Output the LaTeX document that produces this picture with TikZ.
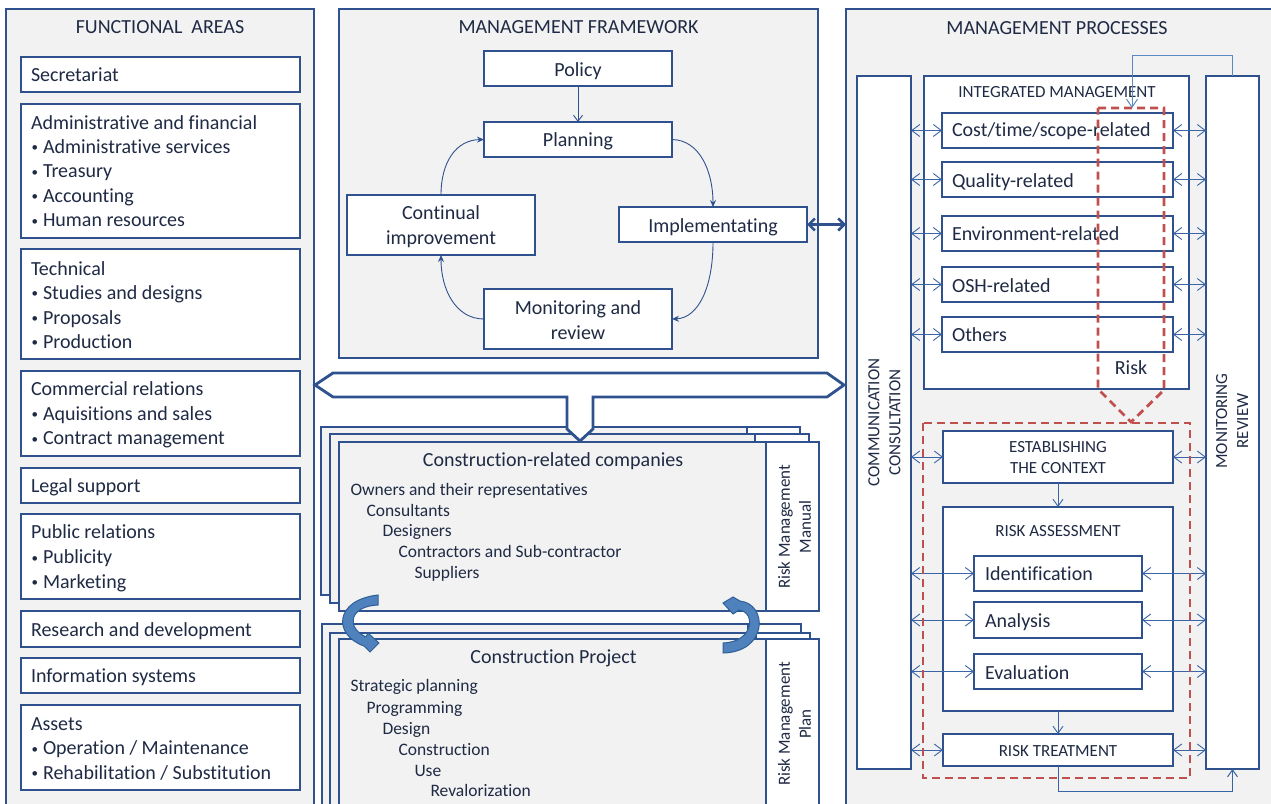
\documentclass[tikz,border=0pt]{standalone}
\usepackage{fontspec}
\setmainfont{Carlito}[Ligatures=NoCommon]
\usetikzlibrary{arrows.meta}
\definecolor{bd}{HTML}{2F528F}
\definecolor{tx}{HTML}{1F2A44}
\definecolor{pg}{HTML}{F2F2F2}
\definecolor{ar}{HTML}{3A64A8}
\definecolor{lb}{HTML}{5A8AC6}
\definecolor{rd}{HTML}{C0504D}
\definecolor{cf}{HTML}{4F81BD}
\definecolor{cb}{HTML}{2F5F97}
\newcommand\bx[6][]{\node[box,minimum width={#5pt-#3pt},minimum height={#6pt-#4pt},#1] (#2) at ({(#3+#5)/2},{(#4+#6)/2}) {};}
\newcommand\tline[5][]{\node[lbl,anchor=base west,#1] (#2) at (#3,#4) {#5};}
\newcommand\ctext[5][]{\node[lbl,anchor=base,#1] (#2) at (#3,#4) {#5};}
\newcommand\bul{\makebox[12pt][l]{\hspace{0.5pt}\raisebox{1.5pt}{\fontsize{13}{13}\selectfont •}}}
\tikzset{
  box/.style={draw=bd,line width=1.3pt,fill=white,inner sep=0pt,outer sep=0pt},
  panel/.style={draw=bd,line width=1.6pt,fill=pg},
  gbox/.style={fill=pg},
  col/.style={line width=1.6pt},
  lbl/.style={text=tx,inner sep=0pt,outer sep=0pt,font=\fontsize{20}{24.5}\selectfont},
  subl/.style={font=\fontsize{17.5}{21}\selectfont},
  capl/.style={font=\fontsize{17}{21}\selectfont},
  cyc/.style={draw=bd,line width=0.9pt,-{Stealth[length=7pt,width=6pt]}},
  barb/.style={draw=ar,line width=0.9pt,-{Straight Barb[length=7pt,width=10pt]}},
  dbl/.style={draw=ar,line width=0.9pt,{Straight Barb[length=8pt,width=12pt]}-{Straight Barb[length=8pt,width=12pt]}},
  fat/.style={draw=bd,line width=2.6pt,{Straight Barb[length=6pt,width=12pt]}-{Straight Barb[length=6pt,width=12pt]}},
  fbk/.style={draw=lb,line width=1pt,-{Straight Barb[length=8pt,width=11pt]}},
  rdash/.style={draw=rd,line width=2.8pt,dash pattern=on 8pt off 5pt},
  blk/.style={draw=bd,line width=2.8pt,fill=white,line join=miter},
  carrow/.style={fill=cf,draw=cb,line width=1pt}
}
\begin{document}
\begin{tikzpicture}[x=1pt,y=-1pt]
\fill[white] (0,0) rectangle (1271,803);
\useasboundingbox (0,0) rectangle (1271,803);

% ---------------- FUNCTIONAL AREAS ----------------
\bx[panel]{fa}{6}{9}{314}{830}
\ctext{fat}{160}{33.5}{FUNCTIONAL\ \ AREAS}
\bx{sec}{21}{57}{300}{92}
\bx{adm}{21}{104}{300}{238}
\bx{tec}{21}{249}{300}{359}
\bx{com}{21}{371}{300}{456}
\bx{leg}{21}{468}{300}{503}
\bx{pub}{21}{514}{300}{599}
\bx{res}{21}{611}{300}{647}
\bx{inf}{21}{658}{300}{693}
\bx{ast}{21}{705}{300}{790}
\tline{t1}{31}{81.7}{Secretariat}
\tline{t2}{31}{129.3}{Administrative and financial}
\tline{t3}{31}{153.3}{\bul Administrative services}
\tline{t4}{31}{177.5}{\bul Treasury}
\tline{t5}{31}{202.3}{\bul Accounting}
\tline{t6}{31}{226.7}{\bul Human resources}
\tline{t7}{31}{275}{Technical}
\tline{t8}{31}{299.3}{\bul Studies and designs}
\tline{t9}{31}{324}{\bul Proposals}
\tline{t10}{31}{348.3}{\bul Production}
\tline{t11}{31}{395.7}{Commercial relations}
\tline{t12}{31}{420}{\bul Aquisitions and sales}
\tline{t13}{31}{444.5}{\bul Contract management}
\tline{t14}{31}{492.3}{Legal support}
\tline{t15}{31}{538.3}{Public relations}
\tline{t16}{31}{563.5}{\bul Publicity}
\tline{t17}{31}{588}{\bul Marketing}
\tline{t18}{31}{636}{Research and development}
\tline{t19}{31}{682.7}{Information systems}
\tline{t20}{31}{730}{Assets}
\tline{t21}{31}{754.5}{\bul Operation / Maintenance}
\tline{t22}{31}{779.3}{\bul Rehabilitation / Substitution}

% ---------------- MANAGEMENT FRAMEWORK ----------------
\bx[panel]{mf}{339}{9}{818}{358}
\ctext{mft}{578.5}{33.5}{MANAGEMENT FRAMEWORK}
\bx{pol}{484}{51}{672}{86}
\bx{pla}{484}{122}{672}{157}
\bx{con}{347}{195}{535}{255}
\bx{imp}{619}{207}{807}{242}
\bx{mon}{484}{289}{672}{349}
\ctext{polt}{578}{76}{Policy}
\ctext{plat}{578}{146.5}{Planning}
\ctext{cont1}{441}{219}{Continual}
\ctext{cont2}{441}{244}{improvement}
\ctext{impt}{713}{232}{Implementating}
\ctext{mont1}{578}{314.5}{Monitoring and}
\ctext{mont2}{578}{339.5}{review}
\draw[cyc,-{Straight Barb[length=6pt,width=9pt]}] (pol.south) -- (pla.north);
\draw[cyc] (pla.east) .. controls (700,140) and (713,172) .. (imp.north);
\draw[cyc] (imp.south) .. controls (713,288) and (698,318) .. (mon.east);
\draw[cyc] (mon.west) .. controls (456,319) and (441,290) .. (con.south);
\draw[cyc] (con.north) .. controls (441,162) and (456,140) .. (pla.west);

% ---------------- MANAGEMENT PROCESSES ----------------
\bx[panel]{mp}{846}{9}{1290}{830}
\ctext{mpt}{1057}{34}{MANAGEMENT PROCESSES}
\draw[fat] (imp.east) -- (mp.west |- imp.east);

\bx[col]{cc}{857}{76}{911}{769}
\bx[col]{mr}{1206}{76}{1259}{769}
\bx[col]{im}{924}{76}{1189}{389}
\node[lbl,capl,rotate=90,align=center] (cct) at (884.5,422.5) {COMMUNICATION\\CONSULTATION};
\node[lbl,capl,rotate=90,align=center] (mrt) at (1232,421) {MONITORING\\REVIEW};
\ctext[capl]{imt}{1057}{97.5}{INTEGRATED MANAGEMENT}
\bx{cst}{942}{113}{1173}{148}
\bx{qua}{942}{162}{1173}{197}
\bx{env}{942}{216}{1173}{251}
\bx{osh}{942}{267}{1173}{302}
\bx{oth}{942}{317}{1173}{352}
\tline{cstt}{952}{136.7}{Cost/time/scope-related}
\tline{quat}{952}{187.7}{Quality-related}
\tline{envt}{952}{240}{Environment-related}
\tline{osht}{952}{292.3}{OSH-related}
\tline{otht}{952}{341}{Others}
\ctext{riskt}{1131}{374}{Risk}

\bx{est}{943}{431}{1173}{483}
\bx[col]{ra}{943}{507}{1173}{711}
\bx{idn}{974}{556}{1142}{591}
\bx{ana}{974}{602}{1142}{638}
\bx{evl}{974}{654}{1142}{689}
\bx[col]{rt}{943}{734}{1173}{766}
\ctext[capl]{estt1}{1058}{452.7}{ESTABLISHING}
\ctext[capl]{estt2}{1058}{473.3}{THE CONTEXT}
\ctext[capl]{rat}{1058}{536.7}{RISK ASSESSMENT}
\tline{idnt}{985}{580}{Identification}
\tline{anat}{985}{627.3}{Analysis}
\tline{evlt}{985}{679}{Evaluation}
\ctext[capl]{rtt}{1058}{756}{RISK TREATMENT}

\draw[barb] (est.south) -- (ra.north);
\draw[barb] (ra.south) -- (rt.north);
\foreach \n in {cst,qua,env,osh,oth,est,rt}{
  \draw[dbl] (cc.east |- \n.west) -- (\n.west);
  \draw[dbl] (\n.east) -- (mr.west |- \n.east);
}
\foreach \n in {idn,ana,evl}{
  \draw[dbl] (cc.east |- \n.west) -- (\n.west);
  \draw[dbl] (\n.east) -- (mr.west |- \n.east);
}

\draw[rdash] (1098,108) -- (1164,108) -- (1164,390) -- (1131,422) -- (1098,389) -- cycle;
\draw[rdash] (923,423) rectangle (1190,778);
\coordinate (fbt) at (1132,55);
\coordinate (rsk) at (1132,108);
\draw[fbk] (mr.north) |- (fbt) -- (rsk);
\draw[barb,line width=1pt] (rt.south) -- ++(0,25.7) -| (mr.south);

% ---------------- COMPANIES / PROJECT STACKS ----------------
\bx[gbox]{cb1}{321}{427}{747}{595}
\bx{cb1r}{747}{427}{800}{595}
\bx[gbox]{cb2}{330}{434}{755}{603}
\bx{cb2r}{755}{434}{809}{603}
\bx[gbox]{cb3}{339}{442}{766}{611}
\bx{cb3r}{766}{442}{819}{611}
\bx[gbox]{pj1}{322}{624}{748}{830}
\bx{pj1r}{748}{624}{801}{830}
\bx[gbox]{pj2}{330}{633}{756}{830}
\bx{pj2r}{756}{633}{810}{830}
\bx[gbox]{pj3}{339}{639}{766}{830}
\bx{pj3r}{766}{639}{819}{830}

\ctext{cbt}{553}{466.7}{Construction-related companies}
\tline[subl]{c1}{350.5}{495}{Owners and their representatives}
\tline[subl]{c2}{366.5}{516}{Consultants}
\tline[subl]{c3}{382.5}{536.7}{Designers}
\tline[subl]{c4}{398.5}{557.7}{Contractors and Sub-contractor}
\tline[subl]{c5}{414.5}{578.3}{Suppliers}
\node[lbl,capl,rotate=90,align=center] (rmm) at (794.5,527) {Risk Management\\Manual};

\ctext{pjt}{553.5}{663.3}{Construction Project}
\tline[subl]{p1}{350.5}{691.7}{Strategic planning}
\tline[subl]{p2}{366.5}{713}{Programming}
\tline[subl]{p3}{382.5}{734}{Design}
\tline[subl]{p4}{398.5}{755}{Construction}
\tline[subl]{p5}{414.5}{776}{Use}
\tline[subl]{p6}{430.5}{796.7}{Revalorization}
\node[lbl,capl,rotate=90,align=center] (rmp) at (794.5,724) {Risk Management\\Plan};

% big block arrow
\draw[blk] (315,385) -- (333,373) -- (827,373) -- (844,385) -- (827,397) -- (593,397) -- (593,429) -- (580,441) -- (567,429) -- (567,397) -- (333,397) -- cycle;

% curved arrows
\draw[carrow] (378,595) -- (378,605) .. controls (350,606) and (345,627) .. (366,637)
  -- (368,633) -- (379,643) -- (370,652) -- (364,646)
  .. controls (333,635) and (334,600) .. (378,595) -- cycle;
\draw[carrow] (723,653) .. controls (768,652) and (768,604) .. (740,601)
  -- (733,597) -- (723,603) -- (733,614) -- (739,610)
  .. controls (756,612) and (754,642) .. (723,643) -- cycle;
\end{tikzpicture}
\end{document}
